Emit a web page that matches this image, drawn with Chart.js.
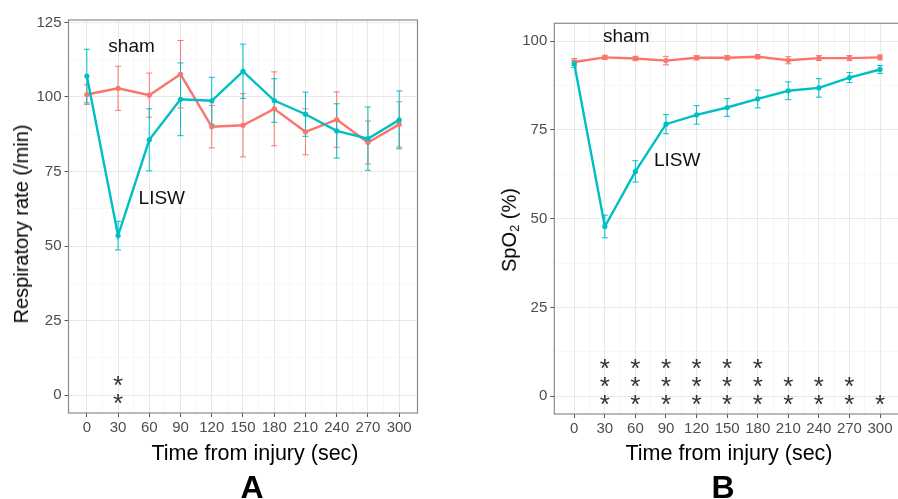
<!DOCTYPE html>
<html>
<head>
<meta charset="utf-8">
<script src="https://cdn.jsdelivr.net/npm/chart.js@4.4.1/dist/chart.umd.min.js"></script>
<style>
  html, body { margin: 0; padding: 0; background: #fff; overflow: hidden; }
  #wrap { position: relative; width: 898px; height: 499px; overflow: hidden; font-family: "Liberation Sans", Arial, sans-serif; color: #000; }
  canvas { position: absolute; top: 0; }
  #chartA { left: 0; }
  #chartB { left: 449px; }
  .ytitle, .xtitle, .panel { position: absolute; white-space: nowrap; line-height: 1; }
  .ytitle { transform: translate(-50%, -50%) rotate(-90deg); font-size: 20px; }
  .xtitle { transform: translate(-50%, -50%); font-size: 21.5px; }
  .panel { transform: translate(-50%, -50%); font-size: 32px; font-weight: bold; }
  sub { font-size: 65%; vertical-align: -0.25em; }
</style>
</head>
<body>
<div id="wrap">
  <canvas id="chartA" width="449" height="499"></canvas>
  <canvas id="chartB" width="456" height="499"></canvas>
  <div class="ytitle" style="left:21px; top:224px;">Respiratory rate (/min)</div>
  <div class="ytitle" style="left:510px; top:230px;">SpO<sub>2</sub> (%)</div>
  <div class="xtitle" style="left:255px; top:454px;">Time from injury (sec)</div>
  <div class="xtitle" style="left:729px; top:454px;">Time from injury (sec)</div>
  <div class="panel" style="left:252px; top:487px;">A</div>
  <div class="panel" style="left:723px; top:487px;">B</div>
</div>
<script>
// time points (sec)
const times = [0, 30, 60, 90, 120, 150, 180, 210, 240, 270, 300];

// A: respiratory rate (/min), mean and error
const rrSham     = [100.8, 102.9, 100.6, 107.6, 90.0, 90.5, 96.0, 88.3, 92.4, 84.7, 90.8];
const rrShamErr  = [3.3, 7.4, 7.4, 11.3, 7.1, 10.6, 12.4, 7.7, 9.3, 7.2, 7.6];
const rrLisw     = [107.0, 53.5, 85.6, 99.2, 98.7, 108.6, 98.8, 94.2, 88.6, 86.0, 92.3];
const rrLiswErr  = [9.0, 4.8, 10.4, 12.2, 7.9, 9.1, 7.3, 7.4, 9.1, 10.6, 9.7];
const rrStars    = [0, 2, 0, 0, 0, 0, 0, 0, 0, 0, 0];

// B: SpO2 (%), mean and error
const spoSham    = [94.1, 95.4, 95.1, 94.5, 95.3, 95.3, 95.6, 94.6, 95.2, 95.2, 95.4];
const spoShamErr = [1.0, 0.6, 0.6, 1.2, 0.6, 0.6, 0.6, 1.0, 0.7, 0.7, 0.7];
const spoLisw    = [93.6, 47.8, 63.3, 76.6, 79.2, 81.3, 83.7, 86.0, 86.8, 89.7, 92.0];
const spoLiswErr = [1.0, 3.2, 3.0, 2.7, 2.6, 2.5, 2.5, 2.5, 2.6, 1.4, 1.1];
const spoStars   = [0, 3, 3, 3, 3, 3, 3, 2, 2, 2, 1];

// group labels placed in data units: [text, x, y]
const notesA = [["sham", 43, 116.8], ["LISW", 72, 65.8]];
const notesB = [["sham", 51, 101.3], ["LISW", 101, 66.4]];

const yTicksA = [0, 25, 50, 75, 100, 125];
const yTicksB = [0, 25, 50, 75, 100];
const xTicks = [0, 30, 60, 90, 120, 150, 180, 210, 240, 270, 300];

const RED = "#F8766D";
const TEAL = "#00BFC4";
const FONT = '"Liberation Sans", Arial, sans-serif';

const overlay = {
    id: "overlay",
    beforeDatasetsDraw(chart, args, opts) {
        const { ctx, scales: { x, y } } = chart;
        ctx.save();
        ctx.lineWidth = 1;
        opts.bars.forEach(([means, errs, color]) => {
            ctx.strokeStyle = color;
            means.forEach((m, i) => {
                const px = x.getPixelForValue(times[i]);
                const top = y.getPixelForValue(m + errs[i]);
                const bot = y.getPixelForValue(m - errs[i]);
                ctx.beginPath();
                ctx.moveTo(px, top); ctx.lineTo(px, bot);
                ctx.moveTo(px - 3, top); ctx.lineTo(px + 3, top);
                ctx.moveTo(px - 3, bot); ctx.lineTo(px + 3, bot);
                ctx.stroke();
            });
        });
        ctx.restore();
    },
    afterDatasetsDraw(chart, args, opts) {
        const { ctx, chartArea: a, scales: { x, y } } = chart;
        ctx.save();
        // significance stars, stacked up from the zero line
        ctx.fillStyle = "#333";
        ctx.font = "26px " + FONT;
        ctx.textAlign = "center";
        ctx.textBaseline = "alphabetic";
        const m = ctx.measureText("*");
        const shift = (m.actualBoundingBoxAscent - m.actualBoundingBoxDescent) / 2;
        const base = y.getPixelForValue(0) + 4;
        opts.stars.forEach((n, i) => {
            const px = x.getPixelForValue(times[i]);
            for (let k = 0; k < n; k++) ctx.fillText("*", px, base - k * 18 + shift);
        });
        // group labels
        ctx.fillStyle = "#111";
        ctx.font = "19px " + FONT;
        ctx.textBaseline = "middle";
        opts.notes.forEach(([t, vx, vy]) => ctx.fillText(t, x.getPixelForValue(vx), y.getPixelForValue(vy)));
        // panel border
        ctx.strokeStyle = "#8a8a8a";
        ctx.lineWidth = 1.2;
        ctx.strokeRect(a.left, a.top, a.right - a.left, a.bottom - a.top);
        ctx.restore();
    }
};

function makeChart(id, cfg) {
    const isMajor = (v, step) => Math.abs(v / step - Math.round(v / step)) < 1e-6;
    return new Chart(document.getElementById(id), {
        type: "line",
        data: {
            datasets: [
                { label: "LISW", data: times.map((t, i) => ({ x: t, y: cfg.lisw[i] })), borderColor: TEAL, backgroundColor: TEAL, borderWidth: 2.4, pointRadius: 2.6, pointBorderWidth: 0, tension: 0 },
                { label: "sham", data: times.map((t, i) => ({ x: t, y: cfg.sham[i] })), borderColor: RED, backgroundColor: RED, borderWidth: 2.4, pointRadius: 2.6, pointBorderWidth: 0, tension: 0 }
            ]
        },
        options: {
            responsive: false,
            animation: false,
            layout: { padding: cfg.padding },
            scales: {
                x: {
                    type: "linear", min: cfg.xMin, max: cfg.xMax,
                    afterBuildTicks: s => { s.ticks = []; for (let v = 0; v <= 300; v += 15) s.ticks.push({ value: v }); },
                    afterFit: s => { s.height = cfg.xAxisH; s.paddingLeft = 0; s.paddingRight = 0; },
                    ticks: { autoSkip: false, maxRotation: 0, padding: 2, color: "#4d4d4d", font: { family: FONT, size: 15 },
                        callback: v => (xTicks.includes(v) ? String(v) : "") },
                    grid: {
                        tickLength: 4,
                        color: c => (c.tick && isMajor(c.tick.value, 30) ? "#e8e8e8" : "#f3f3f3"),
                        tickColor: c => (c.tick && isMajor(c.tick.value, 30) ? "#555" : "rgba(0,0,0,0)"),
                        lineWidth: c => (c.tick && isMajor(c.tick.value, 30) ? 1 : 0.7)
                    },
                    border: { display: false }
                },
                y: {
                    type: "linear", min: cfg.yMin, max: cfg.yMax,
                    afterBuildTicks: s => { s.ticks = []; for (let v = 0; v <= cfg.yTop; v += 12.5) s.ticks.push({ value: v }); },
                    afterFit: s => { s.width = cfg.yAxisW; s.paddingTop = 0; s.paddingBottom = 0; },
                    ticks: { autoSkip: false, padding: 3, color: "#4d4d4d", font: { family: FONT, size: 15 },
                        callback: v => (cfg.yTicks.includes(v) ? String(v) : "") },
                    grid: {
                        tickLength: 4,
                        color: c => (c.tick && isMajor(c.tick.value, 25) ? "#e8e8e8" : "#f3f3f3"),
                        tickColor: c => (c.tick && isMajor(c.tick.value, 25) ? "#555" : "rgba(0,0,0,0)"),
                        lineWidth: c => (c.tick && isMajor(c.tick.value, 25) ? 1 : 0.7)
                    },
                    border: { display: false }
                }
            },
            plugins: {
                legend: { display: false },
                tooltip: { enabled: false },
                overlay: {
                    bars: [[cfg.sham, cfg.shamErr, RED], [cfg.lisw, cfg.liswErr, TEAL]],
                    stars: cfg.stars,
                    notes: cfg.notes
                }
            }
        },
        plugins: [overlay]
    });
}

makeChart("chartA", {
    sham: rrSham, shamErr: rrShamErr, lisw: rrLisw, liswErr: rrLiswErr, stars: rrStars, notes: notesA,
    xMin: -17.6, xMax: 317.6, yMin: -6, yMax: 125.8, yTop: 125, yTicks: yTicksA,
    padding: { top: 20, right: 31.5, left: 0, bottom: 0 }, yAxisW: 68.5, xAxisH: 86
});

makeChart("chartB", {
    sham: spoSham, shamErr: spoShamErr, lisw: spoLisw, liswErr: spoLiswErr, stars: spoStars, notes: notesB,
    xMin: -19.6, xMax: 320.6, yMin: -5, yMax: 105, yTop: 100, yTicks: yTicksB,
    padding: { top: 23.3, right: 0, left: 0, bottom: 0 }, yAxisW: 105.3, xAxisH: 85
});
</script>
</body>
</html>
